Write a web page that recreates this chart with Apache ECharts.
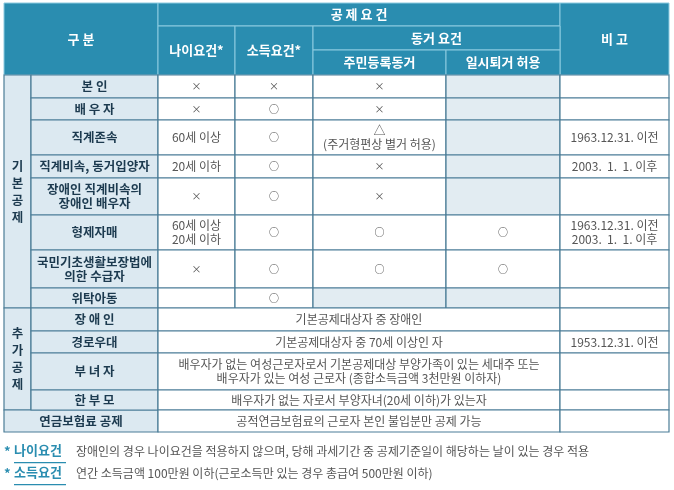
<!DOCTYPE html>
<html><head><meta charset="utf-8">
<script src="https://cdn.jsdelivr.net/npm/echarts@6/dist/echarts.min.js"></script>
<style>html,body{margin:0;padding:0;background:#fff}#c{width:674px;height:490px}</style>
</head><body><div id="c"></div>
<script>
const colEdges = [4, 31, 158, 235, 313, 446, 560, 669];
const rowEdges = [3, 26, 50, 75, 98, 120, 155, 178, 215, 250, 288, 308, 331, 353, 390, 410, 432];
// [col0, col1, row0, row1, kind, text]
const headerCells = [
  [0,2,0,3,'h','구 분'],[2,6,0,1,'h','공 제 요 건'],[6,7,0,3,'h','비 고'],
  [2,3,1,3,'h','나이요건*'],[3,4,1,3,'h','소득요건*'],[4,6,1,2,'h','동거 요건'],
  [4,5,2,3,'h','주민등록동거'],[5,6,2,3,'h','일시퇴거 허용']
];
const groupCells = [[0,1,3,11,'g','기\n본\n공\n제'],[0,1,11,15,'g','추\n가\n공\n제'],[0,2,15,16,'l','연금보험료 공제']];
const rowLabels = ['본 인','배 우 자','직계존속','직계비속, 동거입양자','장애인 직계비속의\n장애인 배우자','형제자매','국민기초생활보장법에\n의한 수급자','위탁아동','장 애 인','경로우대','부 녀 자','한 부 모'];
const ageReq = ['×','×','60세 이상','20세 이하','×','60세 이상\n20세 이하','×',''];
const incomeReq = ['×','○','○','○','○','○','○','○'];
const residentReq = ['×','×','△\n(주거형편상 별거 허용)','×','×','○','○',null];
const tempLeave = [null,null,null,null,null,'○','○',null];
const remarks = ['','','1963.12.31. 이전','2003.  1.  1. 이후','','1963.12.31. 이전\n2003.  1.  1. 이후','','','','1953.12.31. 이전','',''];
const extraText = ['기본공제대상자 중 장애인','기본공제대상자 중 70세 이상인 자','배우자가 없는 여성근로자로서 기본공제대상 부양가족이 있는 세대주 또는\n배우자가 있는 여성 근로자 (종합소득금액 3천만원 이하자)','배우자가 없는 자로서 부양자녀(20세 이하)가 있는자'];
const pensionText = '공적연금보험료의 근로자 본인 불입분만 공제 가능';

const cells = [...headerCells, ...groupCells];
rowLabels.forEach((t,i)=>{
  const r=3+i;
  cells.push([1,2,r,r+1,'l',t]);
  if(i<8){
    cells.push([2,3,r,r+1,'c',ageReq[i]]);
    cells.push([3,4,r,r+1,'c',incomeReq[i]]);
    cells.push([4,5,r,r+1,residentReq[i]===null?'s':'c',residentReq[i]||'']);
    cells.push([5,6,r,r+1,tempLeave[i]===null?'s':'c',tempLeave[i]||'']);
  } else {
    cells.push([2,6,r,r+1,'c',extraText[i-8]]);
  }
  cells.push([6,7,r,r+1,'c',remarks[i]]);
});
cells.push([2,6,15,16,'c',pensionText]);
cells.push([6,7,15,16,'c','']);

const fills={h:'#2a8db0',g:'#dce9f1',l:'#dce9f1',s:'#e2ecf2',c:'#ffffff'};
function renderItem(params, api){
  const d=cells[params.dataIndex];
  const p0=api.coord([colEdges[d[0]],rowEdges[d[2]]]);
  const p1=api.coord([colEdges[d[1]],rowEdges[d[3]]]);
  const k=d[4];
  const isH=k==='h', isL=k==='l'||k==='g';
  const sym=d[5]==='×'||d[5]==='○';
  return {type:'group',children:[
    {type:'rect',shape:{x:p0[0],y:p0[1],width:p1[0]-p0[0],height:p1[1]-p0[1]},
     style:{fill:fills[k],stroke:isH?'#8ccbe0':'#4b7d97',lineWidth:isH?1:1.2}},
    {type:'text',style:{x:(p0[0]+p1[0])/2,y:(p0[1]+p1[1])/2,text:d[5],align:'center',verticalAlign:'middle',
      fill:isH?'#ffffff':(isL?'#1c3a4f':'#555555'),
      fontFamily:'"Noto Sans CJK KR"',fontWeight:(isH||isL)?'bold':'normal',
      fontSize:isH?13:(isL?12.5:(sym?10:12)),
      lineHeight:k==='g'?17:14}}
  ]};
}
const chart=echarts.init(document.getElementById('c'));
const ft={fontFamily:'"Noto Sans CJK KR"'};
chart.setOption({
  animation:false,
  grid:{left:0,right:0,top:0,bottom:0},
  xAxis:{type:'value',min:0,max:674,show:false},
  yAxis:{type:'value',min:0,max:490,inverse:true,show:false},
  series:[{type:'custom',renderItem,data:cells.map((c,i)=>[i]),encode:{x:0,y:0}}],
  graphic:[
    {type:'text',left:4,top:445,style:Object.assign({text:'*',fill:'#2a8db0',fontSize:13,fontWeight:'bold'},ft)},
    {type:'text',left:14,top:444,style:Object.assign({text:'나이요건',fill:'#2a8db0',fontSize:13,fontWeight:'bold'},ft)},
    {type:'rect',shape:{x:14,y:462,width:52,height:1.2},style:{fill:'#2a8db0'}},
    {type:'text',left:76,top:445,style:Object.assign({text:'장애인의 경우 나이요건을 적용하지 않으며, 당해 과세기간 중 공제기준일이 해당하는 날이 있는 경우 적용',fill:'#555',fontSize:12},ft)},
    {type:'text',left:4,top:467,style:Object.assign({text:'*',fill:'#2a8db0',fontSize:13,fontWeight:'bold'},ft)},
    {type:'text',left:14,top:466,style:Object.assign({text:'소득요건',fill:'#2a8db0',fontSize:13,fontWeight:'bold'},ft)},
    {type:'rect',shape:{x:14,y:484,width:52,height:1.2},style:{fill:'#2a8db0'}},
    {type:'text',left:76,top:467,style:Object.assign({text:'연간 소득금액 100만원 이하(근로소득만 있는 경우 총급여 500만원 이하)',fill:'#555',fontSize:12},ft)}
  ]
});
</script></body></html>
